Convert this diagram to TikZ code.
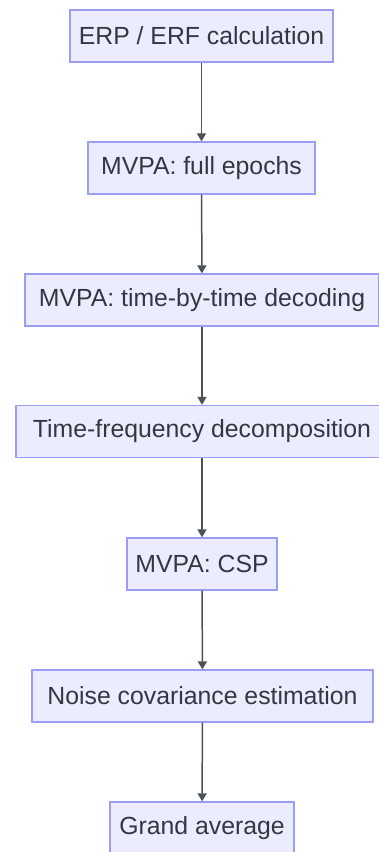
\documentclass[tikz,border=0pt]{standalone}
\usepackage{fontspec}
\setmainfont{Liberation Sans}
\usetikzlibrary{arrows.meta}
\definecolor{boxfill}{HTML}{ECECFF}
\definecolor{boxline}{HTML}{9A9CF6}
\definecolor{txt}{HTML}{333840}
\definecolor{arr}{HTML}{4A5258}
\begin{document}
\begin{tikzpicture}[x=1pt,y=-1pt,
  stepbox/.style={draw=boxline,line width=1.3pt,fill=boxfill,text=txt,
    minimum height=52pt,inner sep=0pt,font=\fontsize{24.8}{28}\selectfont},
  flow/.style={draw=arr,line width=1.5pt,-{Triangle[length=8pt,width=9pt]}}]
\useasboundingbox (0,0) rectangle (379,852);
\clip (0,0) rectangle (379,852);
\node[stepbox,minimum width=263pt] (a) at (201.5,36) {ERP / ERF calculation};
\node[stepbox,minimum width=227pt] (b) at (201.5,168) {MVPA: full epochs};
\node[stepbox,minimum width=354pt] (c) at (202,300) {MVPA: time-by-time decoding};
\node[stepbox,minimum width=372pt] (d) at (202,431.5) {Time-frequency decomposition};
\node[stepbox,minimum width=150pt] (e) at (202,564) {MVPA: CSP};
\node[stepbox,minimum width=341pt] (f) at (202.5,696) {Noise covariance estimation};
\node[stepbox,minimum width=184pt] (g) at (202,828) {Grand average};
\draw[flow] (a) -- (b);
\draw[flow] (b) -- (c);
\draw[flow] (c) -- (d);
\draw[flow] (d) -- (e);
\draw[flow] (e) -- (f);
\draw[flow] (f) -- (g);
\end{tikzpicture}
\end{document}
